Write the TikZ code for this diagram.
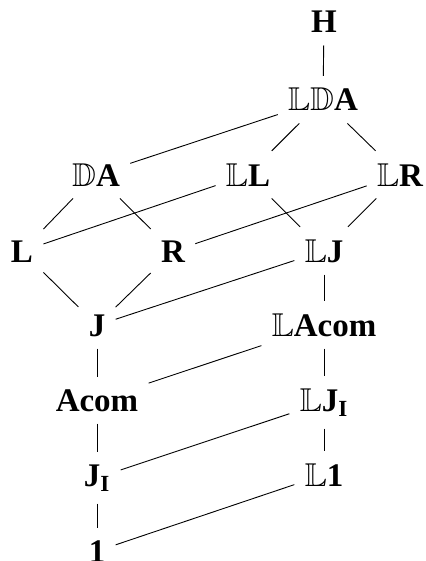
\documentclass[tikz,border=0pt]{standalone}
\usepackage{amssymb}
\usepackage{fontspec}
\setmainfont{Liberation Serif}
\begin{document}
\begin{tikzpicture}[x=0.5pt,y=-0.5pt,
  lat/.style={anchor=base,font=\fontsize{16.5}{20}\selectfont\bfseries,inner xsep=5pt,inner ysep=6pt},
  edge/.style={line width=0.45pt}]
\useasboundingbox (0,0) rectangle (425,561);
\node[lat] (H) at (324,33) {H};
\node[lat] (LDA) at (323,111) {$\mathbb{L}\mathbb{D}$A};
\node[lat] (DA) at (96,186) {$\mathbb{D}$A};
\node[lat] (LL) at (248,186) {$\mathbb{L}$L};
\node[lat] (LR) at (400,186) {$\mathbb{L}$R};
\node[lat] (L) at (22,262) {L};
\node[lat] (R) at (173,262) {R};
\node[lat] (LJ) at (324,262) {$\mathbb{L}$J};
\node[lat] (J) at (97,336) {J};
\node[lat] (LAcom) at (324,336) {$\mathbb{L}$Acom};
\node[lat] (Acom) at (97,411) {Acom};
\node[lat] (LJI) at (324,411) {$\mathbb{L}$J$_{\mathbf{I}}$};
\node[lat] (JI) at (97,486) {J$_{\mathbf{I}}$};
\node[lat] (L1) at (324,486) {$\mathbb{L}$1};
\node[lat] (one) at (97,562) {1};
\draw[edge] (H) -- (LDA);
\draw[edge] (LDA) -- (DA);
\draw[edge] (LDA) -- (LL);
\draw[edge] (LDA) -- (LR);
\draw[edge] (DA) -- (L);
\draw[edge] (DA) -- (R);
\draw[edge] (LL) -- (L);
\draw[edge] (LL) -- (LJ);
\draw[edge] (LR) -- (R);
\draw[edge] (LR) -- (LJ);
\draw[edge] (L) -- (J);
\draw[edge] (R) -- (J);
\draw[edge] (LJ) -- (J);
\draw[edge] (LJ) -- (LAcom);
\draw[edge] (J) -- (Acom);
\draw[edge] (LAcom) -- (Acom);
\draw[edge] (LAcom) -- (LJI);
\draw[edge] (Acom) -- (JI);
\draw[edge] (LJI) -- (JI);
\draw[edge] (LJI) -- (L1);
\draw[edge] (JI) -- (one);
\draw[edge] (L1) -- (one);
\end{tikzpicture}
\end{document}
